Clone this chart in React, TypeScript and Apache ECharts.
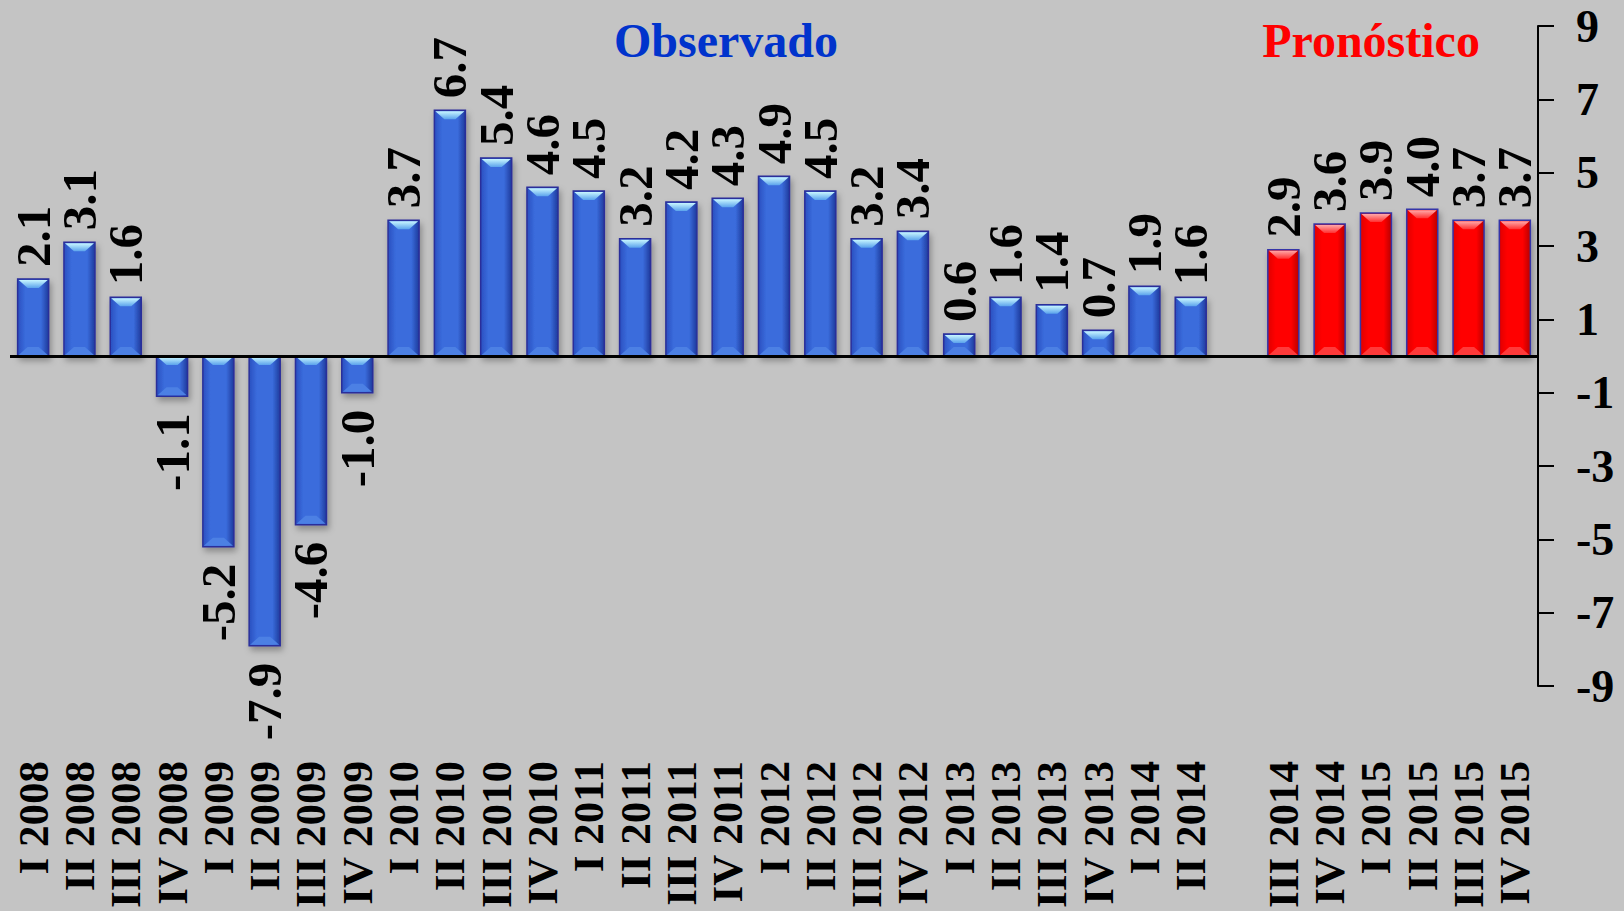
import React, { useEffect, useRef } from "react";
import * as echarts from "echarts";

const categories = [
  "I 2008", "II 2008", "III 2008", "IV 2008",
  "I 2009", "II 2009", "III 2009", "IV 2009",
  "I 2010", "II 2010", "III 2010", "IV 2010",
  "I 2011", "II 2011", "III 2011", "IV 2011",
  "I 2012", "II 2012", "III 2012", "IV 2012",
  "I 2013", "II 2013", "III 2013", "IV 2013",
  "I 2014", "II 2014",
  "",
  "III 2014", "IV 2014", "I 2015", "II 2015", "III 2015", "IV 2015",
];

const observedValues = [
  2.1, 3.1, 1.6, -1.1, -5.2, -7.9, -4.6, -1.0,
  3.7, 6.7, 5.4, 4.6, 4.5, 3.2, 4.2, 4.3,
  4.9, 4.5, 3.2, 3.4, 0.6, 1.6, 1.4, 0.7,
  1.9, 1.6,
];

const forecastValues = [2.9, 3.6, 3.9, 4.0, 3.7, 3.7];

const titleObserved = "Observado";
const titleForecast = "Pronóstico";

const FONT = '"Liberation Serif", "Times New Roman", serif';

type Palette = {
  edge: string;
  mid: string;
  edgeRight: string;
  stroke: string;
  topBevel: string;
  topBevel2: string;
  bottomBevel: string;
};

const bluePalette: Palette = {
  edge: "#2a4fc0",
  mid: "#3a6cdc",
  edgeRight: "#1f3a9c",
  stroke: "#2a2f9a",
  topBevel: "#c8f6ff",
  topBevel2: "#5aa2ec",
  bottomBevel: "#4c80e4",
};

const redPalette: Palette = {
  edge: "#e00000",
  mid: "#ff0000",
  edgeRight: "#b80000",
  stroke: "#3434a8",
  topBevel: "#ffa8a8",
  topBevel2: "#ff3030",
  bottomBevel: "#ff3a3a",
};

function makeRender(pal: Palette) {
  return (params: any, api: any) => {
    const idx = api.value(0);
    const val = api.value(1);
    const p1 = api.coord([idx, val]);
    const p0 = api.coord([idx, 0]);
    const slot = api.size([1, 0])[0];
    const w = slot * 0.67;
    const x = p1[0] - w / 2;
    const top = Math.min(p0[1], p1[1]);
    const bottom = Math.max(p0[1], p1[1]);
    const h = bottom - top;
    const b = Math.min(9, h / 2);
    const positive = val >= 0;
    return {
      type: "group",
      children: [
        {
          type: "rect",
          shape: { x, y: top, width: w, height: h },
          style: {
            fill: new echarts.graphic.LinearGradient(0, 0, 1, 0, [
              { offset: 0, color: pal.edge },
              { offset: 0.25, color: pal.mid },
              { offset: 0.75, color: pal.mid },
              { offset: 1, color: pal.edgeRight },
            ]),
            stroke: pal.stroke,
            lineWidth: 1.5,
            shadowBlur: 6,
            shadowColor: "rgba(0,0,0,0.3)",
            shadowOffsetX: 2,
            shadowOffsetY: 4,
          },
        },
        {
          type: "polygon",
          shape: {
            points: [
              [x + 1, top + 1],
              [x + w - 1, top + 1],
              [x + w - 1 - b, top + b],
              [x + 1 + b, top + b],
            ],
          },
          style: {
            fill: new echarts.graphic.LinearGradient(0, 0, 0, 1, [
              { offset: 0, color: pal.topBevel },
              { offset: 1, color: pal.topBevel2 },
            ]),
          },
        },
        {
          type: "polygon",
          shape: {
            points: [
              [x + 1, bottom - 1],
              [x + w - 1, bottom - 1],
              [x + w - 1 - b, bottom - b],
              [x + 1 + b, bottom - b],
            ],
          },
          style: { fill: pal.bottomBevel },
        },
        {
          type: "text",
          x: p1[0],
          y: positive ? top - 12 : bottom + 17,
          rotation: Math.PI / 2,
          style: {
            text: val.toFixed(1),
            font: "bold 49px " + FONT,
            fill: "#000",
            align: positive ? "left" : "right",
            verticalAlign: "middle",
          },
        },
      ],
    };
  };
}

export default function App() {
  const ref = useRef<HTMLDivElement>(null);

  useEffect(() => {
    if (!ref.current) return;
    const chart = echarts.init(ref.current, null, { renderer: "svg" });
    const obsData = observedValues.map((v, i) => [i, v]);
    const offset = observedValues.length + 1;
    const fcData = forecastValues.map((v, i) => [i + offset, v]);

    chart.setOption({
      animation: false,
      backgroundColor: "#c4c4c4",
      grid: { left: 10, right: 86, top: 26, bottom: 224, containLabel: false },
      xAxis: {
        type: "category",
        data: categories,
        position: "bottom",
        axisLine: { show: false, onZero: false },
        axisTick: { show: false },
        splitLine: { show: false },
        axisLabel: {
          interval: 0,
          rotate: 90,
          margin: 75,
          color: "#000",
          fontFamily: FONT,
          fontWeight: "bold",
          fontSize: 43,
        },
      },
      yAxis: {
        type: "value",
        position: "right",
        min: -9,
        max: 9,
        interval: 2,
        splitLine: { show: false },
        axisLine: { show: true, onZero: false, lineStyle: { color: "#000", width: 2 } },
        axisTick: { show: true, length: 16, lineStyle: { color: "#000", width: 2 } },
        axisLabel: {
          margin: 38,
          align: "left",
          color: "#000",
          fontFamily: FONT,
          fontWeight: "bold",
          fontSize: 46,
        },
      },
      graphic: [
        {
          type: "text",
          x: 726,
          y: 40,
          style: {
            text: titleObserved,
            fill: "#0033cc",
            font: "bold 48px " + FONT,
            align: "center",
            verticalAlign: "middle",
            textAlign: "center",
            textVerticalAlign: "middle",
          },
        },
        {
          type: "text",
          x: 1371,
          y: 40,
          style: {
            text: titleForecast,
            fill: "#ff0000",
            font: "bold 48px " + FONT,
            align: "center",
            verticalAlign: "middle",
            textAlign: "center",
            textVerticalAlign: "middle",
          },
        },
      ],
      series: [
        {
          type: "custom",
          name: "Observado",
          renderItem: makeRender(bluePalette),
          data: obsData,
          encode: { x: 0, y: 1 },
          clip: false,
          markLine: {
            silent: true,
            symbol: "none",
            z: 10,
            label: { show: false },
            lineStyle: { color: "#000", width: 3, type: "solid" },
            data: [{ yAxis: 0 }],
          },
        },
        {
          type: "custom",
          name: "Pronóstico",
          renderItem: makeRender(redPalette),
          data: fcData,
          encode: { x: 0, y: 1 },
          clip: false,
        },
      ],
    });
    return () => chart.dispose();
  }, []);

  return (
    <div
      ref={ref}
      style={{ position: "absolute", left: 0, top: 0, width: 1624, height: 911 }}
    />
  );
}
